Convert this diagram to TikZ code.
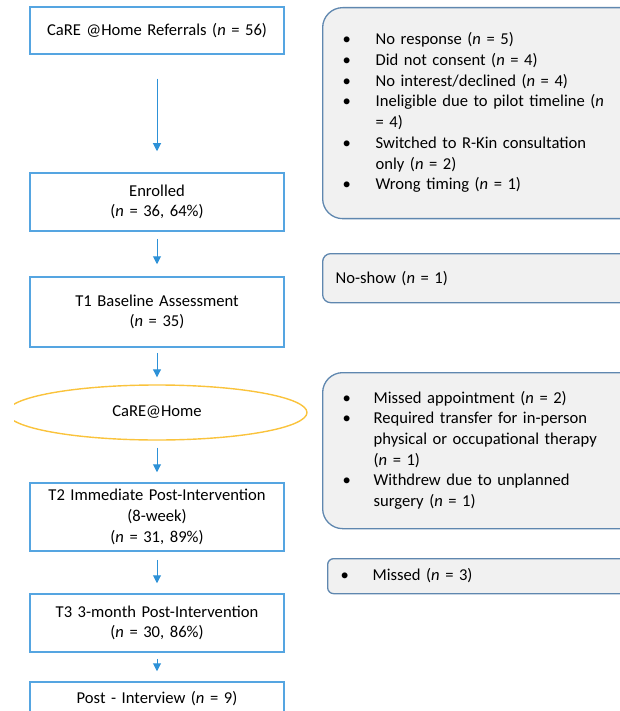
\documentclass[tikz,border=0pt]{standalone}
\usepackage{fontspec}
\setmainfont{Carlito}
\usetikzlibrary{shapes.geometric, arrows.meta, positioning}
\definecolor{stageblue}{RGB}{85,165,225}
\definecolor{arrowblue}{RGB}{45,145,215}
\definecolor{sideblue}{RGB}{95,135,175}
\definecolor{sidegray}{RGB}{241,241,241}
\definecolor{programgold}{RGB}{250,195,60}

\begin{document}
\begin{tikzpicture}[x=1pt, y=-1pt,
  stage/.style={rectangle, draw=stageblue, line width=1.5pt, text width=240pt, inner xsep=7pt, inner ysep=0pt, align=center, font=\fontsize{16.6}{20.7}\selectfont},
  side/.style={rectangle, rounded corners=20pt, draw=sideblue, fill=sidegray, line width=1.3pt, anchor=north west, text width=290pt, inner xsep=20pt, inner ysep=0pt, align=left, font=\fontsize{16.6}{20.7}\selectfont},
  program/.style={ellipse, draw=programgold, line width=1.4pt, minimum width=300pt, minimum height=55pt, inner sep=0pt, font=\fontsize{16.6}{20.7}\selectfont},
  arrow/.style={-{Triangle[width=8pt,length=8pt]}, draw=arrowblue, line width=1pt, shorten <=7pt, shorten >=10pt}
]
\useasboundingbox (0,0) rectangle (620,711);
\clip (0,0) rectangle (620,711);

\node[stage, minimum height=47pt] (referrals) at (157,30.5) {CaRE @Home Referrals (\textit{n} = 56)};
\node[stage, minimum height=58pt] (enrolled) at (157,202) {Enrolled\\(\textit{n} = 36, 64\%)};
\node[stage, minimum height=70pt] (baseline) at (157,312) {T1 Baseline Assessment\\(\textit{n} = 35)};
\begin{scope}
  \clip (14,0) rectangle (620,711);
  \node[program] (careathome) at (157,412.5) {CaRE@Home};
\end{scope}
\node[stage, minimum height=68pt] (posttwo) at (157,517) {T2 Immediate Post-Intervention\\(8-week)\\(\textit{n} = 31, 89\%)};
\node[stage, minimum height=58pt] (postthree) at (157,623) {T3 3-month Post-Intervention\\(\textit{n} = 30, 86\%)};
\node[stage, minimum height=34pt] (interview) at (157,699) {Post - Interview (\textit{n} = 9)};

\node[side, minimum height=211pt] (excluded) at (322,7) {\begin{tabular}{@{}p{33pt}@{}l@{}}
\textbullet & No response (\textit{n} = 5)\\
\textbullet & Did not consent (\textit{n} = 4)\\
\textbullet & No interest/declined (\textit{n} = 4)\\
\textbullet & Ineligible due to pilot timeline (\textit{n}\\
 & = 4)\\
\textbullet & Switched to R-Kin consultation\\
 & only (\textit{n} = 2)\\
\textbullet & Wrong timing (\textit{n} = 1)
\end{tabular}};
\node[side, rounded corners=8pt, inner xsep=13pt, minimum height=49pt] (noshow) at (322,253) {No-show (\textit{n} = 1)};
\node[side, minimum height=156pt] (dropped) at (322,372) {\begin{tabular}{@{}p{31pt}@{}l@{}}
\textbullet & Missed appointment (\textit{n} = 2)\\
\textbullet & Required transfer for in-person\\
 & physical or occupational therapy\\
 & (\textit{n} = 1)\\
\textbullet & Withdrew due to unplanned\\
 & surgery (\textit{n} = 1)
\end{tabular}};
\node[side, rounded corners=6pt, inner xsep=13pt, minimum height=35pt] (missed) at (327,558) {\begin{tabular}{@{}p{32pt}@{}l@{}}
\textbullet & Missed (\textit{n} = 3)
\end{tabular}};

\draw[arrow, shorten <=24pt, shorten >=21pt] (referrals) -- (enrolled);
\draw[arrow, shorten >=12pt] (enrolled) -- (baseline);
\draw[arrow, shorten <=5pt, shorten >=7pt] (baseline) -- (careathome);
\draw[arrow] (careathome) -- (posttwo);
\draw[arrow, shorten <=8pt] (posttwo) -- (postthree);
\draw[arrow, shorten <=6pt] (postthree) -- (interview);

\end{tikzpicture}
\end{document}
